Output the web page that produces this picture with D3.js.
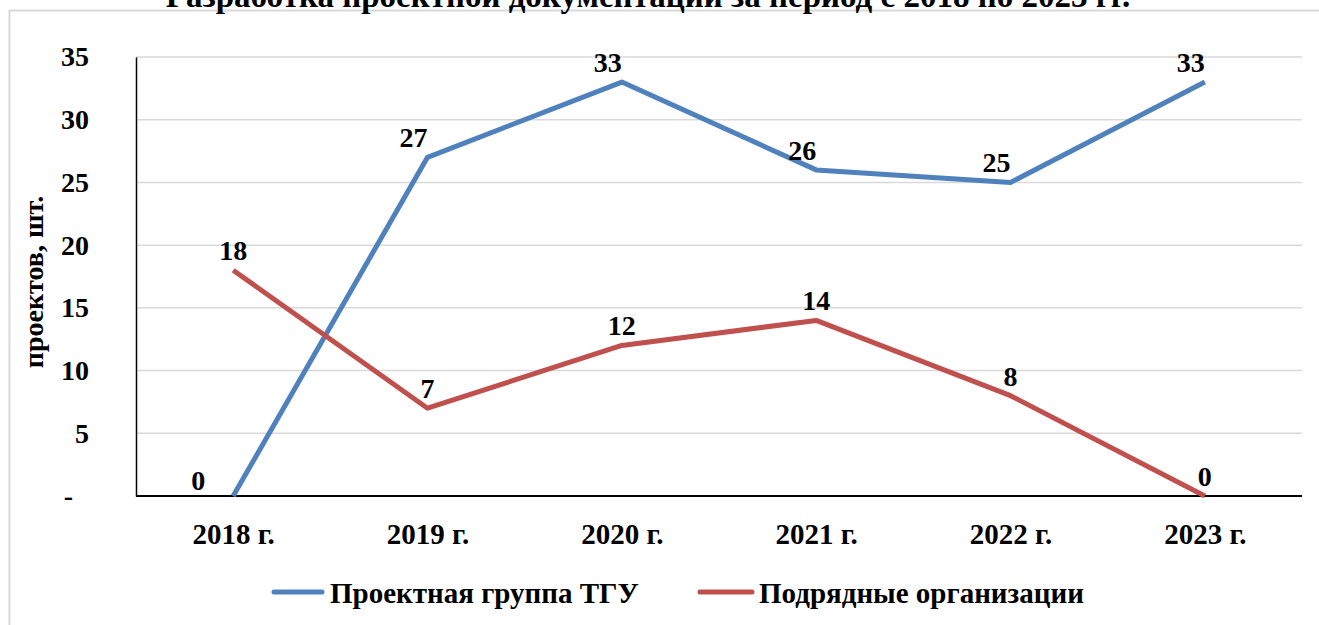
<!DOCTYPE html>
<html>
<head>
<meta charset="utf-8">
<script src="https://cdn.jsdelivr.net/npm/d3@7"></script>
<style>
  html, body { margin: 0; padding: 0; background: #fff; overflow: hidden; }
  svg text { font-family: "Times New Roman", "Liberation Serif", Tinos, "DejaVu Serif", serif !important; font-weight: bold; fill: #000; }
</style>
</head>
<body>
<svg id="chart" width="1319" height="625"></svg>
<script>
// Chart data
const years = ["2018 г.", "2019 г.", "2020 г.", "2021 г.", "2022 г.", "2023 г."];
const tguValues = [0, 27, 33, 26, 25, 33];
const contractorValues = [18, 7, 12, 14, 8, 0];
const seriesNames = ["Проектная группа ТГУ", "Подрядные организации"];
const yTicks = [0, 5, 10, 15, 20, 25, 30, 35];
const chartTitle = "Разработка проектной документации за период с 2018 по 2023 гг.";
const yTitle = "проектов, шт.";

const svg = d3.select("#chart");
const plot = { left: 136, right: 1302, top: 57, bottom: 496 };
const FONT = 28;

// outer chart border (only top/left visible in frame)
svg.append("rect")
    .attr("x", 9.5).attr("y", 10.5)
    .attr("width", 1400).attr("height", 800)
    .attr("fill", "none")
    .attr("stroke", "#d9d9d9")
    .attr("stroke-width", 2);

// title, cut off by the top edge like in the source
svg.append("text")
    .attr("x", 648).attr("y", 7)
    .attr("text-anchor", "middle")
    .style("font-size", "33px")
    .text(chartTitle);

const x = d3.scalePoint().domain(years).range([plot.left, plot.right]).padding(0.5);
const y = d3.scaleLinear().domain([0, 35]).range([plot.bottom, plot.top]);

// gridlines
svg.append("g")
    .selectAll("line")
    .data(yTicks.filter(d => d > 0))
    .join("line")
    .attr("x1", plot.left).attr("x2", plot.right)
    .attr("y1", d => y(d)).attr("y2", d => y(d))
    .attr("stroke", "#d9d9d9")
    .attr("stroke-width", 1.5);

// y axis
const yAxis = svg.append("g")
    .attr("transform", `translate(${plot.left},0)`)
    .call(d3.axisLeft(y).tickValues(yTicks).tickSize(0).tickPadding(47)
        .tickFormat(d => d === 0 ? "-" : d));
yAxis.attr("font-family", null);
yAxis.select(".domain").attr("stroke", "#000").attr("stroke-width", 1.5);
yAxis.selectAll("text")
    .style("font-size", FONT + "px")
    .attr("dx", d => d === 0 ? -16 : 0);

// x axis
const xAxis = svg.append("g")
    .attr("transform", `translate(0,${plot.bottom})`)
    .call(d3.axisBottom(x).tickSize(0).tickPadding(27));
xAxis.attr("font-family", null);
xAxis.select(".domain")
    .attr("d", `M${plot.left},0H${plot.right}`)
    .attr("stroke", "#000").attr("stroke-width", 2);
xAxis.selectAll("text")
    .style("font-size", "29px");

// y axis title
svg.append("text")
    .attr("transform", `translate(43,282) rotate(-90)`)
    .attr("text-anchor", "middle")
    .style("font-size", FONT + "px")
    .text(yTitle);

const series = [
    { name: seriesNames[0], values: tguValues, color: "#4f81bd", dx: -14 },
    { name: seriesNames[1], values: contractorValues, color: "#c0504d", dx: 0 }
];

const line = d3.line()
    .x((d, i) => x(years[i]))
    .y(d => y(d));

series.forEach(s => {
    svg.append("path")
        .datum(s.values)
        .attr("d", line)
        .attr("fill", "none")
        .attr("stroke", s.color)
        .attr("stroke-width", 5)
        .attr("stroke-linejoin", "round");
});

// data labels; the blue zero sits left of its point
series.forEach((s, si) => {
    const leftOf = d => si === 0 && d === 0;
    svg.append("g")
        .selectAll("text")
        .data(s.values)
        .join("text")
        .attr("x", (d, i) => leftOf(d) ? x(years[i]) - 28 : x(years[i]) + s.dx)
        .attr("y", d => leftOf(d) ? y(d) - 6 : y(d) - 10)
        .attr("text-anchor", d => leftOf(d) ? "end" : "middle")
        .style("font-size", FONT + "px")
        .text(d => d);
});

// legend
const legendItems = [
    { x1: 274, x2: 322, tx: 330 },
    { x1: 700, x2: 752, tx: 759 }
];
series.forEach((s, i) => {
    const g = svg.append("g");
    g.append("line")
        .attr("x1", legendItems[i].x1).attr("x2", legendItems[i].x2)
        .attr("y1", 592).attr("y2", 592)
        .attr("stroke", s.color)
        .attr("stroke-width", 5)
        .attr("stroke-linecap", "round");
    g.append("text")
        .attr("x", legendItems[i].tx).attr("y", 603)
        .style("font-size", "29px")
        .text(s.name);
});
</script>
</body>
</html>
